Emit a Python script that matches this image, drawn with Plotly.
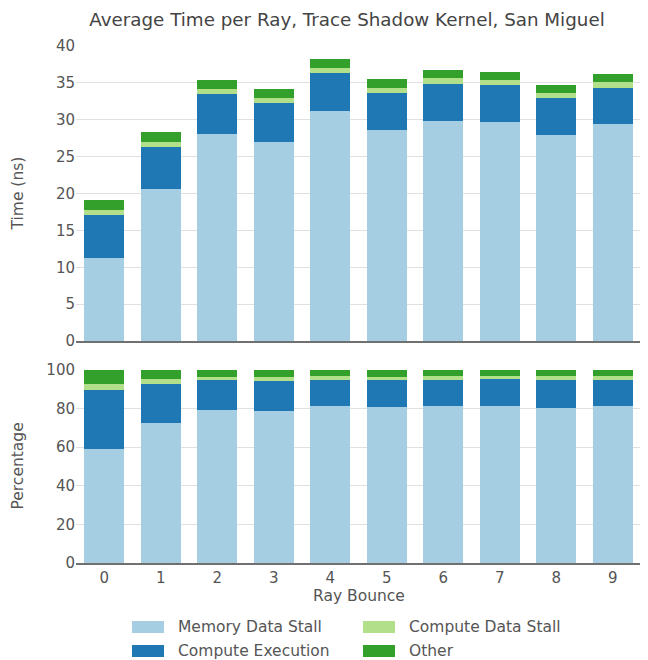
import plotly.graph_objects as go
from plotly.subplots import make_subplots

bounces = ["0", "1", "2", "3", "4", "5", "6", "7", "8", "9"]
memory_data_stall = [11.3, 20.65, 28.1, 27.0, 31.2, 28.64, 29.85, 29.72, 27.96, 29.45]
compute_execution = [5.84, 5.69, 5.42, 5.28, 5.14, 5.0, 5.01, 5.0, 5.01, 4.87]
compute_data_stall = [0.67, 0.67, 0.67, 0.68, 0.67, 0.68, 0.81, 0.68, 0.67, 0.81]
other = [1.36, 1.36, 1.22, 1.21, 1.23, 1.22, 1.08, 1.08, 1.08, 1.08]

series_names = ["Memory Data Stall", "Compute Execution", "Compute Data Stall", "Other"]
series_values = [memory_data_stall, compute_execution, compute_data_stall, other]
colors = ["#a6cee3", "#1f78b4", "#b2df8a", "#33a02c"]

# share of each component in the per-bounce total (percentage panel)
totals = [sum(v) for v in zip(*series_values)]
percent_values = [[100.0 * x / t for x, t in zip(vals, totals)] for vals in series_values]

FONT = "DejaVu Sans"
TXT = "#555555"

# page body has an 8px margin, so the figure is 8px smaller than the window
W, H = 640, 652
L, R, T, B = 68, 7, 38, 97
PW, PH = W - L - R, H - T - B


def px_x(x):
    return (x - L) / PW


def px_y(y):
    return (H - B - y) / PH


fig = make_subplots(rows=2, cols=1, shared_xaxes=True, vertical_spacing=0.0)

for name, vals, pvals, c in zip(series_names, series_values, percent_values, colors):
    fig.add_trace(go.Bar(x=bounces, y=vals, name=name, marker_color=c,
                         marker_line_width=0, showlegend=False), row=1, col=1)
    fig.add_trace(go.Bar(x=bounces, y=pvals, name=name, marker_color=c,
                         marker_line_width=0, showlegend=False), row=2, col=1)

fig.update_layout(
    width=W, height=H,
    barmode="stack", bargap=0.29,
    plot_bgcolor="white", paper_bgcolor="white",
    margin=dict(l=L, r=R, t=T, b=B, autoexpand=False),
    font=dict(family=FONT, size=15, color=TXT),
    title=dict(text="Average Time per Ray, Trace Shadow Kernel, San Miguel",
               x=339 / W, xanchor="center", xref="container",
               y=1 - 12 / H, yanchor="middle", yref="container",
               font=dict(family=FONT, size=18.3, color="#444444")),
    showlegend=False,
)

fig.update_layout(
    yaxis=dict(domain=[0.4294, 1.0], range=[0, 40], dtick=5, gridcolor="#e0e0e0",
               zeroline=False, automargin=False, tickfont=dict(size=15, color=TXT)),
    yaxis2=dict(domain=[0.0, 0.3733], range=[0, 100], dtick=20, gridcolor="#e0e0e0",
                zeroline=False, automargin=False, tickfont=dict(size=15, color=TXT)),
    xaxis=dict(showline=True, linecolor="#707070", linewidth=2, showgrid=False,
               showticklabels=False, automargin=False),
    xaxis2=dict(showline=True, linecolor="#707070", linewidth=2, showgrid=False,
                automargin=False, tickfont=dict(size=15, color=TXT)),
)

# axis titles
fig.add_annotation(xref="paper", yref="paper", x=px_x(10), y=(0.4294 + 1.0) / 2,
                   text="Time (ns)", textangle=-90, showarrow=False,
                   xanchor="center", yanchor="middle",
                   font=dict(family=FONT, size=15.5, color=TXT))
fig.add_annotation(xref="paper", yref="paper", x=px_x(10), y=0.3733 / 2,
                   text="Percentage", textangle=-90, showarrow=False,
                   xanchor="center", yanchor="middle",
                   font=dict(family=FONT, size=15.5, color=TXT))
fig.add_annotation(xref="paper", yref="paper", x=0.5, y=px_y(588),
                   text="Ray Bounce", showarrow=False,
                   xanchor="center", yanchor="middle",
                   font=dict(family=FONT, size=15.5, color=TXT))

# custom legend (two columns, column-major order)
legend_items = [
    (series_names[0], colors[0], 124, 619),
    (series_names[2], colors[2], 355, 619),
    (series_names[1], colors[1], 124, 643),
    (series_names[3], colors[3], 355, 643),
]
for name, c, x, y in legend_items:
    fig.add_shape(type="rect", xref="paper", yref="paper",
                  x0=px_x(x), x1=px_x(x + 32),
                  y0=px_y(y + 6), y1=px_y(y - 6),
                  fillcolor=c, line_width=0)
    fig.add_annotation(xref="paper", yref="paper",
                       x=px_x(x + 44), y=px_y(y),
                       text=name, showarrow=False, xanchor="left", yanchor="middle",
                       font=dict(family=FONT, size=15.5, color=TXT))

fig.write_html("out.html")
